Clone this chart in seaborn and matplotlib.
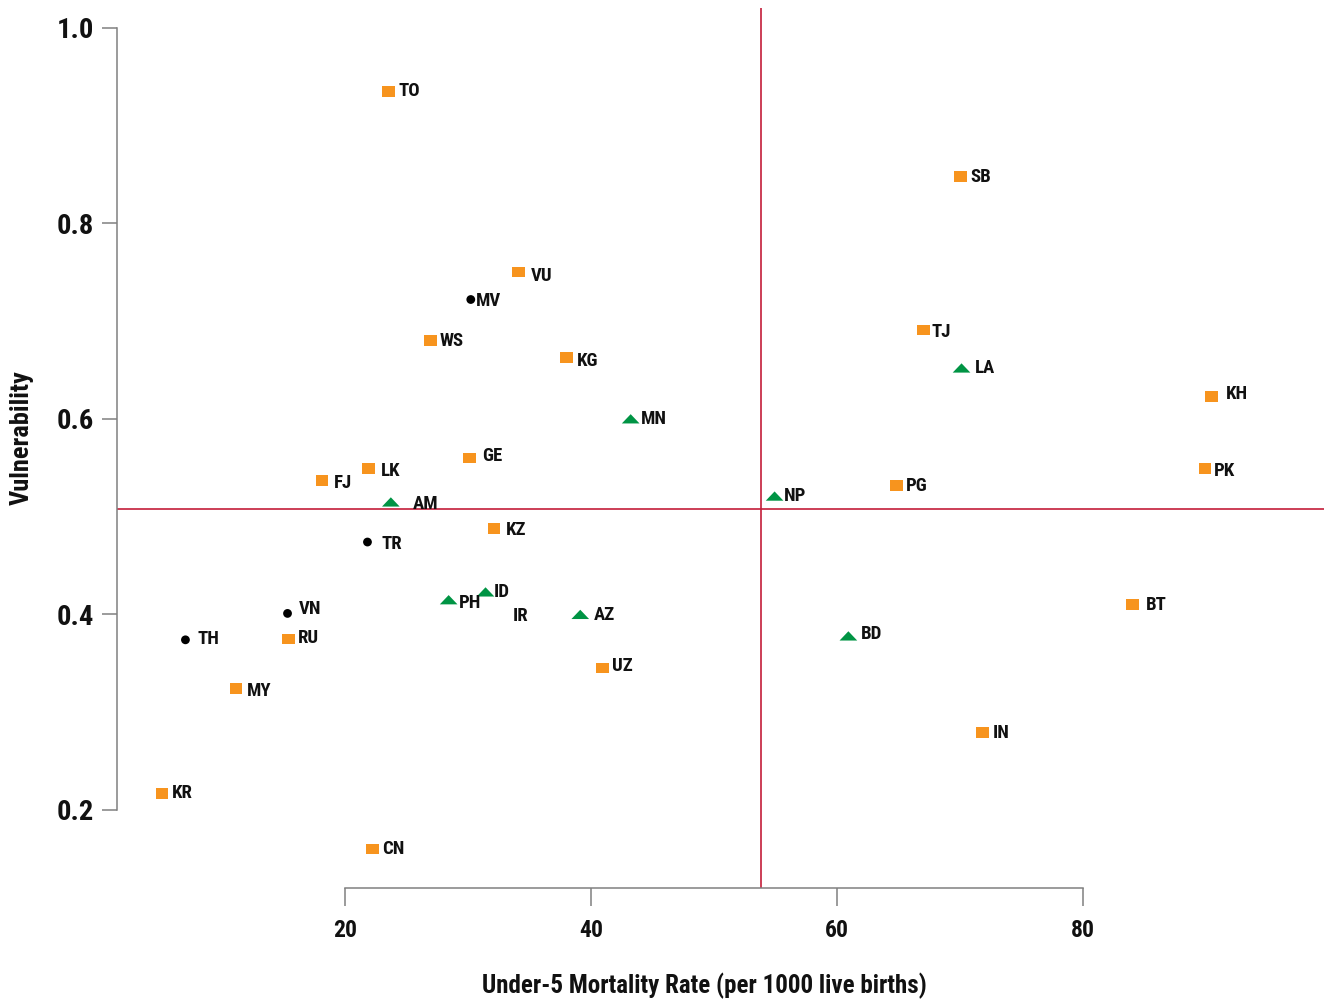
import numpy as np
import pandas as pd
import matplotlib
matplotlib.use("Agg")
import matplotlib.pyplot as plt
import seaborn as sns
from matplotlib import font_manager as fm

# ---------------- data ----------------
codes = ["TO", "SB", "VU", "MV", "WS", "TJ", "KG", "LA", "KH", "MN", "GE", "LK", "FJ",
         "PK", "PG", "NP", "AM", "KZ", "TR", "ID", "PH", "IR", "AZ", "VN", "RU", "TH",
         "BT", "BD", "UZ", "MY", "IN", "KR", "CN"]
u5mr = [23.5, 70.0, 34.1, 30.2, 26.9, 67.0, 38.0, 70.1, 90.4, 43.2, 30.1, 21.9, 18.1,
        89.9, 64.8, 54.9, 23.7, 32.1, 21.8, 31.4, 28.4, 32.8, 39.1, 15.3, 15.4, 7.0,
        84.0, 60.9, 40.9, 11.1, 71.8, 5.1, 22.2]
vulnerability = [0.935, 0.848, 0.750, 0.722, 0.680, 0.691, 0.663, 0.652, 0.623, 0.600, 0.560, 0.549, 0.537,
                 0.549, 0.532, 0.521, 0.515, 0.488, 0.474, 0.423, 0.415, 0.398, 0.400, 0.401, 0.375, 0.374,
                 0.410, 0.378, 0.345, 0.324, 0.279, 0.217, 0.160]
groups = ["square", "square", "square", "dot", "square", "square", "square", "triangle", "square",
          "triangle", "square", "square", "square", "square", "square", "triangle", "triangle",
          "square", "dot", "triangle", "triangle", "none", "triangle", "dot", "square", "dot",
          "square", "triangle", "square", "square", "square", "square", "square"]
x_ticks = [20, 40, 60, 80]
x_tick_labels = ["20", "40", "60", "80"]
y_ticks = [0.2, 0.4, 0.6, 0.8, 1.0]
y_tick_labels = ["0.2", "0.4", "0.6", "0.8", "1.0"]
h_ref = 0.508
v_ref = 53.8
x_label = "Under-5 Mortality Rate (per 1000 live births)"
y_label = "Vulnerability"

df = pd.DataFrame({"code": codes, "u5mr": u5mr, "vulnerability": vulnerability, "group": groups})

# ---------------- styling ----------------
label_offsets = {"SB": (10, -1), "TJ": (8, -2), "LA": (13, 0), "KH": (15, 2), "PK": (9, -2),
                 "PG": (9.5, -1), "VU": (12, -4), "MV": (5.5, -1), "WS": (9, 0), "KG": (10, -4),
                 "BT": (13, 0), "BD": (12, 2), "FJ": (12, -3), "LK": (12, -2), "GE": (13, 2),
                 "AM": (22, -2), "KZ": (12, -2), "TR": (14, -2), "ID": (8, 0), "PH": (10, -3),
                 "AZ": (14, -1), "VN": (11, 4), "RU": (9, 1), "UZ": (10, 2), "TH": (12, 1),
                 "MY": (11, -2), "NP": (9, 0)}

sns.set_style("white")

ttf = fm.fontManager.ttflist
names = {f.name for f in ttf}
FONT, STRETCH = None, "normal"
for cand in ["Liberation Sans Narrow", "Roboto Condensed", "Open Sans Condensed",
             "Noto Sans Condensed", "DejaVu Sans Condensed"]:
    if cand in names:
        FONT = cand
        break
if FONT is None:
    if any(f.name == "DejaVu Sans" and str(f.stretch) == "condensed" for f in ttf):
        FONT, STRETCH = "DejaVu Sans", "condensed"
    else:
        others = sorted(n for n in names if ("Narrow" in n or "Condensed" in n) and "Extra" not in n)
        FONT = others[0] if others else "Liberation Sans"

plt.rcParams["font.family"] = [FONT, "DejaVu Sans"]
plt.rcParams["font.stretch"] = STRETCH
plt.rcParams["font.weight"] = "bold"
plt.rcParams["axes.labelweight"] = "bold"

W, H = 1330, 1001
fig = plt.figure(figsize=(W / 100, H / 100), dpi=100)
left_px, right_px, top_px, bottom_px = 117.3, 1324, 8, 888.3
ax = fig.add_axes([left_px / W, 1 - bottom_px / H, (right_px - left_px) / W, (bottom_px - top_px) / H])
ax.set_facecolor("white")

rect = np.array([[-1.19, -1.0], [1.19, -1.0], [1.19, 1.0], [-1.19, 1.0], [-1.19, -1.0]])
tri = np.array([[-1.0, -0.525], [1.0, -0.525], [0.0, 0.525], [-1.0, -0.525]])
styles = {"square": (rect, "#F7941E", 83),
          "triangle": (tri, "#009444", 162),
          "dot": ("o", "#000000", 40)}

for grp, (marker, color, size) in styles.items():
    sub = df[df["group"] == grp]
    sns.scatterplot(data=sub, x="u5mr", y="vulnerability", marker=marker, color=color,
                    s=size, linewidth=0, edgecolor="none", ax=ax, zorder=3, legend=False)

for code, xv, yv in zip(df["code"], df["u5mr"], df["vulnerability"]):
    dx, dy = label_offsets.get(code, (10, 0))
    ax.annotate(code, (xv, yv), xytext=(dx, dy), textcoords="offset pixels",
                ha="left", va="center", fontsize=13.5, fontweight="bold", color="#111111", zorder=4)

red = "#C41E3A"
ax.axhline(h_ref, color=red, lw=1.2, zorder=1)
ax.axvline(v_ref, color=red, lw=1.2, zorder=1)

ax.set_xlim(1.46, 99.57)
ax.set_ylim(0.1199, 1.0201)

for side in ["top", "right"]:
    ax.spines[side].set_visible(False)
gray = "#808080"
ax.spines["left"].set_bounds(0.2, 1.0)
ax.spines["bottom"].set_bounds(20, 80)
for side in ["left", "bottom"]:
    ax.spines[side].set_color(gray)
    ax.spines[side].set_linewidth(1.1)

ax.set_xticks(x_ticks)
ax.set_xticklabels(x_tick_labels)
ax.set_yticks(y_ticks)
ax.set_yticklabels(y_tick_labels)
ax.tick_params(axis="y", left=True, length=10.8, width=1.1, color=gray, pad=6,
               labelsize=20.5, direction="out")
ax.tick_params(axis="x", bottom=True, length=13, width=1.1, color=gray, pad=9,
               labelsize=17, direction="out")
for lbl in ax.get_xticklabels() + ax.get_yticklabels():
    lbl.set_fontweight("bold")
    lbl.set_color("#111111")

ax.set_xlabel(x_label, fontsize=18, fontweight="bold", va="center", color="#111111")
ax.xaxis.set_label_coords((704.5 - left_px) / (right_px - left_px), (bottom_px - 986) / (bottom_px - top_px))
ax.set_ylabel(y_label, fontsize=19, fontweight="bold", va="center", color="#111111")
ax.yaxis.set_label_coords((22 - left_px) / (right_px - left_px), (bottom_px - 438) / (bottom_px - top_px))
ax.grid(False)

fig.savefig("out.png", dpi=100, facecolor="white")
